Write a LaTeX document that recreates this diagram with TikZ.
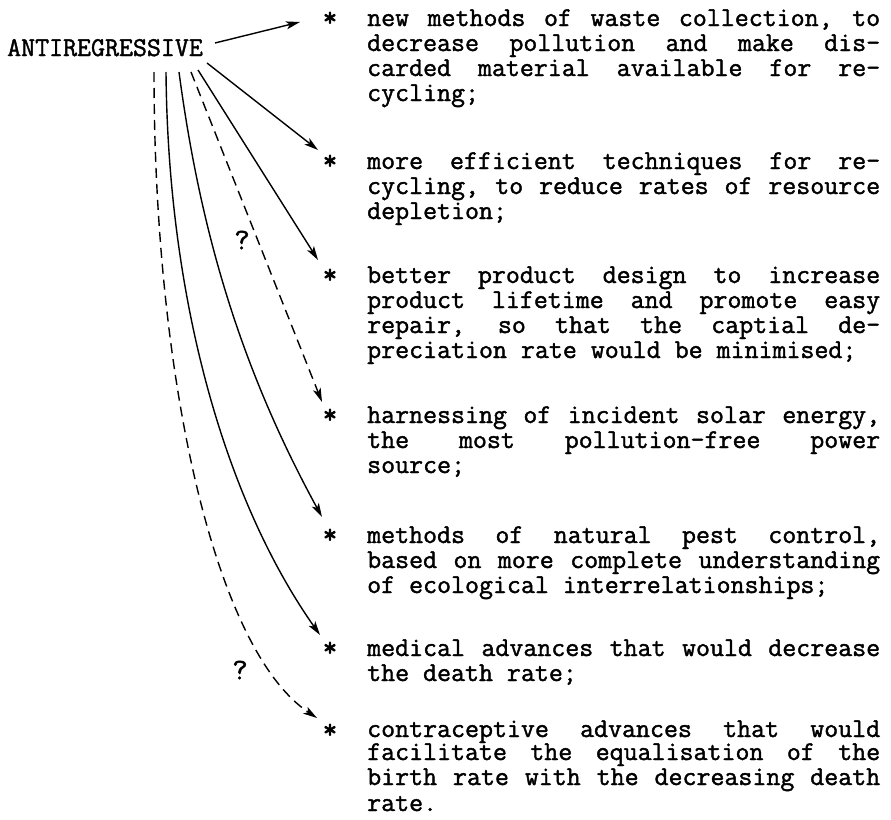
\documentclass[tikz,border=0pt]{standalone}
\usepackage{fontspec}
\usetikzlibrary{arrows.meta}
\newfontfamily\boldtt{Latin Modern Mono}[FakeBold=3]
\newfontfamily\typetw{Latin Modern Mono}[FakeBold=1.5]
\newcommand\jline[1]{\makebox[513pt][s]{\spaceskip=0.525em plus 1fil\relax#1}}
\begin{document}
\begin{tikzpicture}[x=1pt,y=-1pt,
  tw/.style={font=\typetw\fontsize{27.14pt}{27pt}\selectfont, inner sep=0pt, anchor=base west},
  star/.style={font=\boldtt\fontsize{27.14pt}{27pt}\selectfont, inner sep=0pt, anchor=base},
  qmark/.style={font=\typetw\fontsize{30pt}{30pt}\selectfont, inner sep=0pt},
  conn/.style={line width=1.4pt, -{Stealth[length=14pt,width=8pt,inset=3.5pt]}},
  dconn/.style={conn, dash pattern=on 10pt off 6pt},
]
\useasboundingbox (0,0) rectangle (891,819);

\node[tw] (anti) at (7,56) {ANTIREGRESSIVE};

% asterisks
\node[star] (s1) at (330,26) {*};
\node[star] (s2) at (330,169) {*};
\node[star] (s3) at (330,283) {*};
\node[star] (s4) at (330,423) {*};
\node[star] (s5) at (330,543) {*};
\node[star] (s6) at (330,656) {*};
\node[star] (s7) at (330,738) {*};

% item 1
\node[tw] (l11) at (367,26) {\jline{new methods of waste collection, to}};
\node[tw] (l12) at (367,51) {\jline{decrease pollution and make dis-}};
\node[tw] (l13) at (367,76) {\jline{carded material available for re-}};
\node[tw] (l14) at (367,101) {cycling;};
% item 2
\node[tw] (l21) at (367,169) {\jline{more efficient techniques for re-}};
\node[tw] (l22) at (367,194) {\jline{cycling, to reduce rates of resource}};
\node[tw] (l23) at (367,219) {depletion;};
% item 3
\node[tw] (l31) at (367,283) {\jline{better product design to increase}};
\node[tw] (l32) at (367,308) {\jline{product lifetime and promote easy}};
\node[tw] (l33) at (367,333) {\jline{repair, so that the captial de-}};
\node[tw] (l34) at (367,358) {preciation rate would be minimised;};
% item 4
\node[tw] (l41) at (367,423) {\jline{harnessing of incident solar energy,}};
\node[tw] (l42) at (367,448) {\jline{the most pollution-free power}};
\node[tw] (l43) at (367,473) {source;};
% item 5
\node[tw] (l51) at (367,543) {\jline{methods of natural pest control,}};
\node[tw] (l52) at (367,568) {\jline{based on more complete understanding}};
\node[tw] (l53) at (367,593) {of ecological interrelationships;};
% item 6
\node[tw] (l61) at (367,656) {\jline{medical advances that would decrease}};
\node[tw] (l62) at (367,681) {the death rate;};
% item 7
\node[tw] (l71) at (367,737) {\jline{contraceptive advances that would}};
\node[tw] (l72) at (367,760) {\jline{facilitate the equalisation of the}};
\node[tw] (l73) at (367,785) {\jline{birth rate with the decreasing death}};
\node[tw] (l74) at (367,811) {rate.};

% question marks
\node[qmark] (q1) at (242,240) {?};
\node[qmark] (q2) at (240,670) {?};

% connector ends
\coordinate (o1) at (215,43);
\coordinate (o2) at (207,63);
\coordinate (o3) at (198,70);
\coordinate (o4) at (191,72);
\coordinate (o5) at (179,72);
\coordinate (o6) at (166,72);
\coordinate (o7) at (154,72);
\coordinate (t1) at (300,22);
\coordinate (t2) at (318,150);
\coordinate (t3) at (318,260);
\coordinate (t4) at (322,402);
\coordinate (t5) at (322,517);
\coordinate (t6) at (320,635);
\coordinate (t7) at (317,718);

\draw[conn] (o1) -- (t1);
\draw[conn] (o2) -- (t2);
\draw[conn] (o3) -- (t3);
\draw[dconn] (o4) -- (t4);
\draw[conn] (o5) .. controls (200,230) and (240,367) .. (t5);
\draw[conn] (o6) .. controls (168,300) and (225,500) .. (t6);
\draw[dconn] (o7) .. controls (154,380) and (215,650) .. (t7);
\end{tikzpicture}
\end{document}
